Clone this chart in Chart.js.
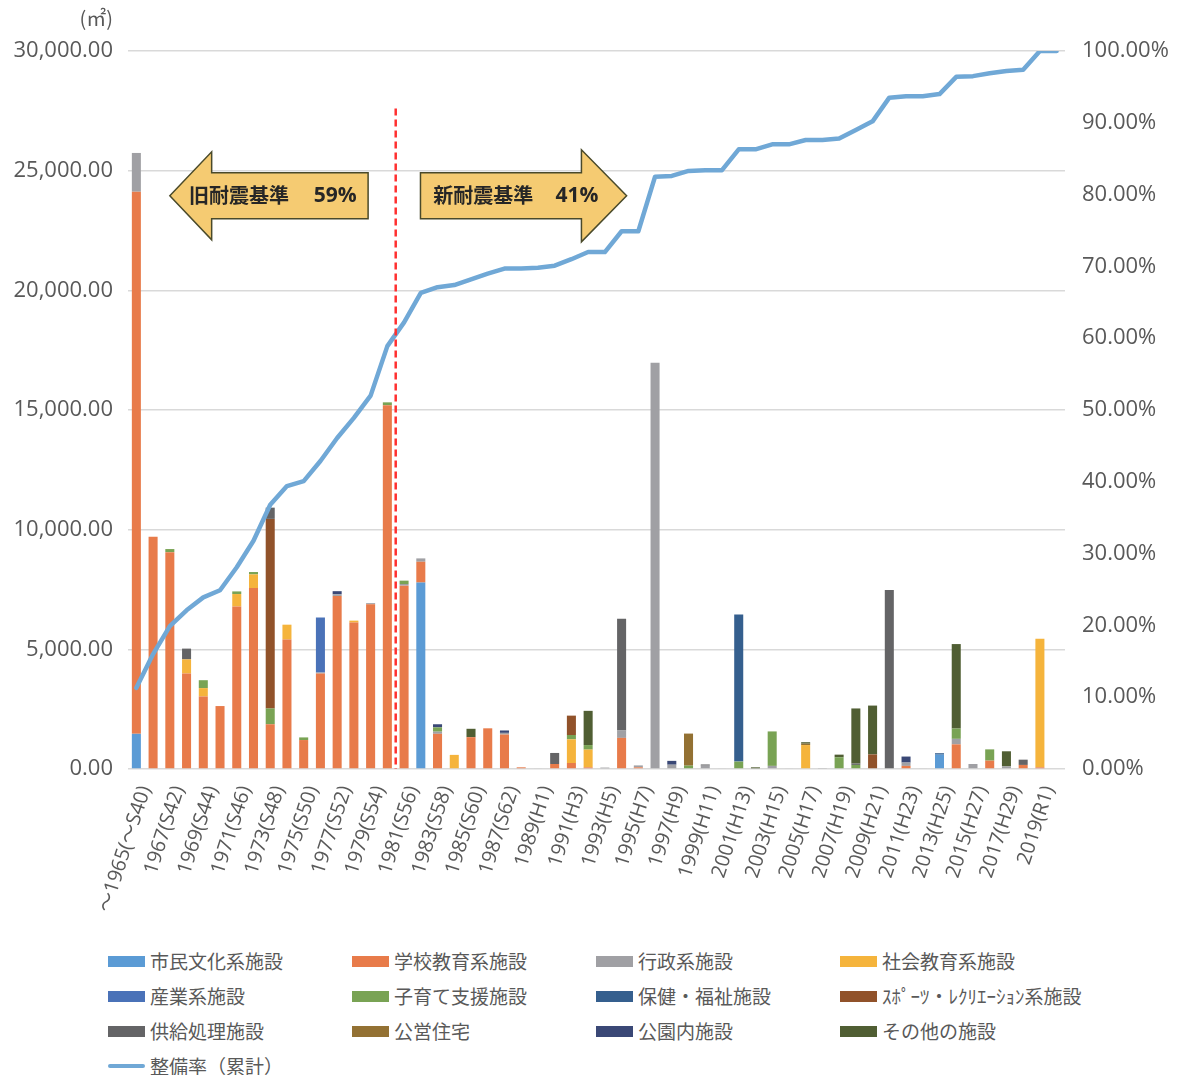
<!DOCTYPE html>
<html>
<head>
<meta charset="utf-8">
<script src="https://cdn.jsdelivr.net/npm/chart.js@4.4.0/dist/chart.umd.min.js"></script>
<style>
  html, body { margin: 0; padding: 0; background: #fff; }
  body { width: 1182px; height: 1075px; position: relative; overflow: hidden;
         font-family: "Noto Sans CJK JP", "Noto Sans", sans-serif; color: #595959; }
  #wrap { position: absolute; left: 0; top: 0; width: 1182px; height: 940px; }
  #legend { position: absolute; left: 108px; top: 944px; width: 1000px; }
  .item { position: absolute; display: flex; align-items: center; font-size: 19px; line-height: 22px; white-space: nowrap; height: 34px; }
  .box { width: 37px; height: 11px; margin-right: 5px; }
  .ln { width: 37px; height: 4px; border-radius: 2px; margin-right: 5px; }
</style>
</head>
<body>
<div id="wrap"><canvas id="chart"></canvas></div>
<div id="legend"></div>
<script>
// categories (year)
const labels = [
  "～1965(～S40)", "1966(S41)", "1967(S42)", "1968(S43)", "1969(S44)", "1970(S45)", "1971(S46)", "1972(S47)",
  "1973(S48)", "1974(S49)", "1975(S50)", "1976(S51)", "1977(S52)", "1978(S53)", "1979(S54)", "1980(S55)",
  "1981(S56)", "1982(S57)", "1983(S58)", "1984(S59)", "1985(S60)", "1986(S61)", "1987(S62)", "1988(S63)",
  "1989(H1)", "1990(H2)", "1991(H3)", "1992(H4)", "1993(H5)", "1994(H6)", "1995(H7)", "1996(H8)",
  "1997(H9)", "1998(H10)", "1999(H11)", "2000(H12)", "2001(H13)", "2002(H14)", "2003(H15)", "2004(H16)",
  "2005(H17)", "2006(H18)", "2007(H19)", "2008(H20)", "2009(H21)", "2010(H22)", "2011(H23)", "2012(H24)",
  "2013(H25)", "2014(H26)", "2015(H27)", "2016(H28)", "2017(H29)", "2018(H30)", "2019(R1)", "2020(R2)"
];

// floor area by facility type (m2), 8 years per row
const shimin = [
  1470, 0, 0, 0, 0, 0, 0, 0,
  0, 0, 0, 0, 0, 0, 0, 0,
  0, 7790, 0, 0, 0, 0, 0, 0,
  0, 0, 0, 0, 0, 0, 0, 0,
  0, 0, 0, 0, 0, 0, 0, 0,
  0, 0, 0, 0, 0, 0, 0, 0,
  600, 0, 0, 0, 0, 0, 0, 0
];
const gakko = [
  22650, 9700, 9060, 3990, 3030, 2630, 6790, 7560,
  1870, 5410, 1210, 3990, 7230, 6120, 6880, 15200,
  7660, 870, 1470, 0, 1330, 1700, 1440, 70,
  0, 210, 250, 70, 0, 1300, 70, 0,
  0, 0, 0, 0, 0, 0, 0, 0,
  0, 0, 0, 0, 0, 0, 130, 0,
  0, 1030, 0, 350, 0, 170, 70, 0
];
const gyosei = [
  1620, 0, 0, 0, 0, 0, 0, 0,
  0, 0, 0, 40, 70, 0, 50, 0,
  70, 140, 90, 0, 0, 0, 70, 0,
  30, 0, 0, 0, 60, 310, 80, 16970,
  180, 0, 140, 30, 0, 0, 130, 30,
  0, 40, 0, 0, 0, 0, 140, 30,
  0, 230, 210, 0, 110, 0, 0, 0
];
const shakai = [
  0, 0, 0, 590, 350, 0, 520, 570,
  0, 620, 0, 0, 0, 80, 0, 0,
  0, 0, 0, 590, 0, 0, 0, 0,
  0, 0, 990, 740, 0, 0, 0, 0,
  0, 0, 0, 0, 0, 0, 0, 0,
  1000, 0, 0, 0, 0, 0, 0, 0,
  0, 0, 0, 0, 0, 0, 5370, 0
];
const sangyo = [
  0, 0, 0, 0, 0, 0, 0, 0,
  0, 0, 0, 2300, 0, 0, 0, 0,
  0, 0, 0, 0, 0, 0, 0, 0,
  0, 0, 0, 0, 0, 0, 0, 0,
  0, 0, 0, 0, 0, 0, 0, 0,
  0, 0, 0, 0, 0, 0, 0, 0,
  0, 0, 0, 0, 0, 0, 0, 0
];
const kosodate = [
  0, 0, 130, 0, 330, 0, 110, 100,
  660, 0, 110, 0, 0, 0, 0, 120,
  140, 0, 180, 0, 0, 0, 0, 0,
  0, 0, 180, 190, 0, 0, 0, 0,
  0, 140, 0, 0, 310, 0, 1440, 0,
  0, 0, 490, 170, 0, 0, 0, 0,
  0, 430, 0, 470, 0, 0, 0, 0
];
const hoken = [
  0, 0, 0, 0, 0, 0, 0, 0,
  0, 0, 0, 0, 0, 0, 0, 0,
  0, 0, 0, 0, 0, 0, 0, 0,
  0, 0, 0, 0, 0, 0, 0, 0,
  0, 0, 0, 0, 6150, 0, 0, 0,
  0, 0, 0, 0, 0, 0, 0, 0,
  60, 0, 0, 0, 0, 0, 0, 0
];
const sports = [
  0, 0, 0, 0, 0, 0, 0, 0,
  7920, 0, 0, 0, 0, 0, 0, 0,
  0, 0, 0, 0, 0, 0, 0, 0,
  0, 0, 810, 0, 0, 0, 0, 0,
  0, 0, 0, 0, 0, 0, 0, 0,
  0, 0, 0, 0, 610, 0, 0, 0,
  0, 0, 0, 0, 0, 0, 0, 0
];
const kyokyu = [
  0, 0, 0, 450, 0, 0, 0, 0,
  470, 0, 0, 0, 0, 0, 0, 0,
  0, 0, 0, 0, 0, 0, 0, 0,
  0, 460, 0, 0, 0, 4670, 0, 0,
  0, 0, 50, 0, 0, 30, 0, 0,
  0, 0, 0, 60, 0, 7480, 0, 0,
  0, 0, 0, 0, 0, 220, 0, 0
];
const koei = [
  0, 0, 0, 0, 0, 0, 0, 0,
  0, 0, 0, 0, 0, 0, 0, 0,
  0, 0, 0, 0, 0, 0, 0, 0,
  0, 0, 0, 0, 0, 0, 0, 0,
  0, 1340, 0, 0, 0, 0, 0, 0,
  60, 0, 0, 0, 0, 0, 0, 0,
  0, 0, 0, 0, 0, 0, 0, 0
];
const koen = [
  0, 0, 0, 0, 0, 0, 0, 0,
  0, 0, 0, 0, 130, 0, 0, 0,
  0, 0, 130, 0, 0, 0, 100, 0,
  0, 0, 0, 0, 0, 0, 0, 0,
  160, 0, 0, 0, 0, 0, 0, 0,
  0, 0, 0, 0, 0, 0, 250, 0,
  0, 0, 0, 0, 0, 0, 0, 0
];
const sonota = [
  0, 0, 0, 0, 0, 0, 0, 0,
  0, 0, 0, 0, 0, 0, 0, 0,
  0, 0, 0, 0, 350, 0, 0, 0,
  0, 0, 0, 1430, 0, 0, 0, 0,
  0, 0, 0, 0, 0, 40, 0, 0,
  60, 0, 110, 2300, 2040, 0, 0, 0,
  0, 3530, 0, 0, 630, 0, 0, 0
];

// cumulative rate (%)
const rate = [
  11.3, 16.0, 19.9, 22.1, 23.9, 24.9, 28.1, 31.8,
  36.8, 39.4, 40.1, 42.9, 46.1, 48.9, 52.0, 58.9,
  62.2, 66.3, 67.1, 67.4, 68.2, 69.0, 69.7, 69.7,
  69.8, 70.1, 71.0, 72.0, 72.0, 74.9, 74.9, 82.5,
  82.6, 83.3, 83.4, 83.4, 86.3, 86.3, 87.0, 87.0,
  87.6, 87.6, 87.8, 89.0, 90.2, 93.5, 93.7, 93.7,
  94.0, 96.4, 96.5, 96.9, 97.2, 97.4, 100.0, 100.0
];

const series = [
  { name: "市民文化系施設", data: shimin, color: "#5B9BD5" },
  { name: "学校教育系施設", data: gakko, color: "#E87B4A" },
  { name: "行政系施設", data: gyosei, color: "#A0A0A4" },
  { name: "社会教育系施設", data: shakai, color: "#F5B43C" },
  { name: "産業系施設", data: sangyo, color: "#4A72B8" },
  { name: "子育て支援施設", data: kosodate, color: "#79A354" },
  { name: "保健・福祉施設", data: hoken, color: "#355F8E" },
  { name: "ｽﾎﾟｰﾂ・ﾚｸﾘｴｰｼｮﾝ系施設", data: sports, color: "#91522A" },
  { name: "供給処理施設", data: kyokyu, color: "#646466" },
  { name: "公営住宅", data: koei, color: "#937133" },
  { name: "公園内施設", data: koen, color: "#3A4876" },
  { name: "その他の施設", data: sonota, color: "#505E33" }
];
const lineName = "整備率（累計）";
const lineColor = "#70A8D6";

const FONT = '"Noto Sans CJK JP", "Noto Sans", sans-serif';
const NUMFONT = '"Open Sans", "Noto Sans CJK JP", sans-serif';
const GRAY = "#595959";

const datasets = series.map(s => ({
  type: "bar",
  label: s.name,
  data: s.data,
  backgroundColor: s.color,
  borderWidth: 0,
  barPercentage: 0.54,
  categoryPercentage: 1,
  yAxisID: "y",
  order: 2
}));
datasets.push({
  type: "line",
  label: lineName,
  data: rate,
  borderColor: lineColor,
  borderWidth: 4.5,
  pointRadius: 0,
  tension: 0,
  borderJoinStyle: "round",
  borderCapStyle: "round",
  yAxisID: "y1",
  order: 1
});

// red dashed divider + the two arrows + unit label
const overlay = {
  id: "overlay",
  afterDatasetsDraw(chart) {
    const ctx = chart.ctx;
    const x = chart.scales.x, y = chart.scales.y;
    ctx.save();

    // divider between 1980 and 1981
    const dx = x.getPixelForValue(15.5);
    ctx.strokeStyle = "#FF3030";
    ctx.lineWidth = 2.5;
    ctx.setLineDash([7, 4]);
    ctx.beginPath();
    ctx.moveTo(dx, y.getPixelForValue(27600));
    ctx.lineTo(dx, y.getPixelForValue(0));
    ctx.stroke();
    ctx.setLineDash([]);

    const cy = y.getPixelForValue(23950);
    const bh = 23, hh = 44;
    ctx.fillStyle = "#F5CB72";
    ctx.strokeStyle = "#4A4A2A";
    ctx.lineWidth = 1.5;

    // left arrow (old standard)
    let tip = x.getPixelForValue(2.0), base = x.getPixelForValue(4.5), end = x.getPixelForValue(13.85);
    ctx.beginPath();
    ctx.moveTo(tip, cy);
    ctx.lineTo(base, cy - hh);
    ctx.lineTo(base, cy - bh);
    ctx.lineTo(end, cy - bh);
    ctx.lineTo(end, cy + bh);
    ctx.lineTo(base, cy + bh);
    ctx.lineTo(base, cy + hh);
    ctx.closePath();
    ctx.fill();
    ctx.stroke();

    // right arrow (new standard)
    const start = x.getPixelForValue(16.98);
    base = x.getPixelForValue(26.6);
    tip = x.getPixelForValue(29.3);
    ctx.beginPath();
    ctx.moveTo(start, cy - bh);
    ctx.lineTo(base, cy - bh);
    ctx.lineTo(base, cy - hh - 2);
    ctx.lineTo(tip, cy);
    ctx.lineTo(base, cy + hh + 2);
    ctx.lineTo(base, cy + bh);
    ctx.lineTo(start, cy + bh);
    ctx.closePath();
    ctx.fill();
    ctx.stroke();

    ctx.fillStyle = "#262626";
    ctx.textBaseline = "middle";
    ctx.textAlign = "left";
    ctx.font = "bold 20px " + FONT;
    ctx.fillText("旧耐震基準", x.getPixelForValue(3.15), cy);
    ctx.fillText("新耐震基準", x.getPixelForValue(17.75), cy);
    ctx.font = "bold 21px " + NUMFONT;
    ctx.fillText("59%", x.getPixelForValue(10.6), cy);
    ctx.fillText("41%", x.getPixelForValue(25.05), cy);

    // unit
    ctx.fillStyle = GRAY;
    ctx.font = "20px " + FONT;
    ctx.textAlign = "right";
    ctx.fillText("(㎡)", chart.chartArea.left - 15, 18);
    ctx.restore();
  }
};

new Chart(document.getElementById("chart"), {
  data: { labels: labels, datasets: datasets },
  plugins: [overlay],
  options: {
    responsive: true,
    maintainAspectRatio: false,
    animation: false,
    layout: { padding: { top: 51, left: 0, right: 0, bottom: 0 } },
    plugins: {
      legend: { display: false },
      tooltip: { enabled: false }
    },
    scales: {
      x: {
        stacked: true,
        grid: { display: false },
        border: { display: false },
        ticks: {
          autoSkip: false,
          minRotation: 72,
          maxRotation: 72,
          padding: 6,
          labelOffset: 9,
          color: GRAY,
          font: { family: NUMFONT, size: 20 },
          callback: function (value, index) {
            return index % 2 === 0 ? this.getLabelForValue(value) : "";
          }
        },
        afterFit(scale) { scale.height = 171; }
      },
      y: {
        stacked: true,
        position: "left",
        min: 0,
        max: 30000,
        border: { display: false },
        grid: { color: "#D9D9D9", lineWidth: 1.5, drawTicks: false },
        ticks: {
          stepSize: 5000,
          padding: 15,
          color: GRAY,
          font: { family: NUMFONT, size: 22 },
          callback: v => v.toLocaleString("en-US", { minimumFractionDigits: 2, maximumFractionDigits: 2 })
        },
        afterFit(scale) { scale.width = 128; }
      },
      y1: {
        stacked: false,
        position: "right",
        min: 0,
        max: 100,
        border: { display: false },
        grid: { display: false, drawTicks: false },
        ticks: {
          stepSize: 10,
          padding: 17,
          color: GRAY,
          font: { family: NUMFONT, size: 22 },
          callback: v => v.toFixed(2) + "%"
        },
        afterFit(scale) { scale.width = 117; }
      }
    }
  }
});

// legend, four columns
const legend = document.getElementById("legend");
const items = series.map(s => ({ name: s.name, color: s.color, line: false }));
items.push({ name: lineName, color: lineColor, line: true });
items.forEach((it, i) => {
  const d = document.createElement("div");
  d.className = "item";
  d.style.left = (i % 4) * 244 + "px";
  d.style.top = Math.floor(i / 4) * 35 + "px";
  const b = document.createElement("span");
  b.className = it.line ? "ln" : "box";
  b.style.background = it.color;
  const t = document.createElement("span");
  t.textContent = it.name;
  d.appendChild(b);
  d.appendChild(t);
  legend.appendChild(d);
});
</script>
</body>
</html>
